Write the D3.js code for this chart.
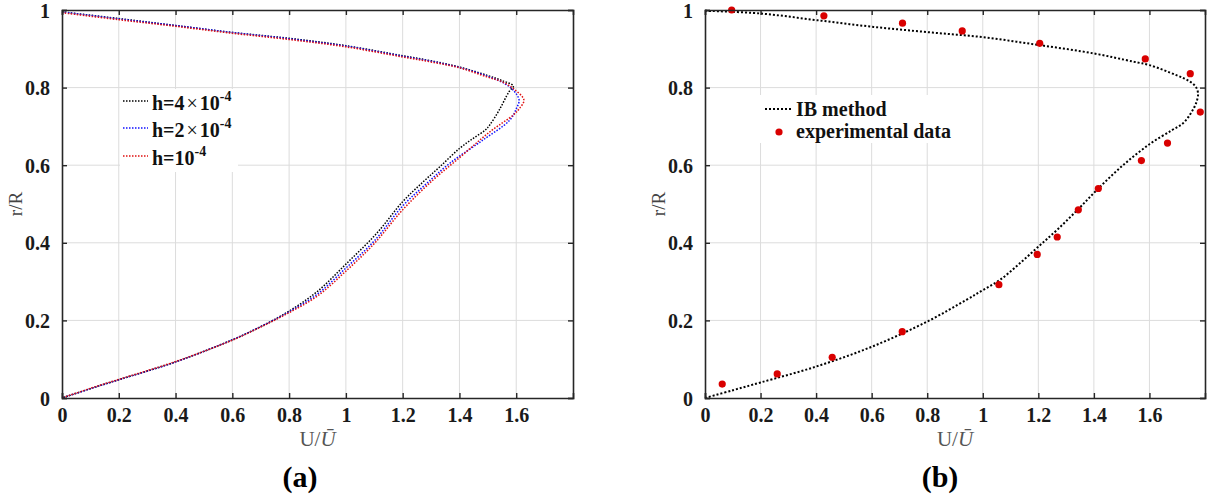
<!DOCTYPE html>
<html><head><meta charset="utf-8">
<script src="https://cdn.jsdelivr.net/npm/d3@7"></script>
<style>body{margin:0;background:#fff}svg{display:block}</style>
</head><body><svg id="c" width="1208" height="500"></svg>
<script>
// ---------- data ----------
const xTicks = [0, 0.2, 0.4, 0.6, 0.8, 1, 1.2, 1.4, 1.6];
const yTicks = [0, 0.2, 0.4, 0.6, 0.8, 1];
const xTickLabels = ["0", "0.2", "0.4", "0.6", "0.8", "1", "1.2", "1.4", "1.6"];
const yTickLabels = ["0", "0.2", "0.4", "0.6", "0.8", "1"];

// panel (a): h = 4e-4 (black)
const aBlackU = [0, 0.2, 0.4, 0.6, 0.8, 1.0, 1.2, 1.3, 1.4, 1.5, 1.55, 1.59, 1.575, 1.54, 1.507, 1.49, 1.45, 1.4, 1.331, 1.272, 1.2, 1.108, 1.0, 0.9, 0.8, 0.7, 0.6, 0.4, 0.2, 0.1, 0];
const aBlackR = [0.995, 0.978, 0.96, 0.942, 0.927, 0.908, 0.882, 0.869, 0.853, 0.831, 0.818, 0.804, 0.79, 0.742, 0.704, 0.69, 0.67, 0.643, 0.596, 0.557, 0.506, 0.424, 0.345, 0.275, 0.224, 0.184, 0.15, 0.093, 0.047, 0.024, 0];
// panel (a): h = 2e-4 (blue)
const aBlueU = [0, 0.2, 0.4, 0.6, 0.8, 1.0, 1.2, 1.3, 1.4, 1.5, 1.56, 1.59, 1.61, 1.6, 1.577, 1.483, 1.366, 1.28, 1.2, 1.1, 1.0, 0.9, 0.8, 0.7, 0.6, 0.4, 0.2, 0.1, 0];
const aBlueR = [0.995, 0.977, 0.96, 0.942, 0.926, 0.907, 0.881, 0.868, 0.852, 0.829, 0.81, 0.793, 0.768, 0.745, 0.716, 0.665, 0.605, 0.55, 0.495, 0.405, 0.335, 0.268, 0.222, 0.184, 0.15, 0.093, 0.047, 0.024, 0];
// panel (a): h = 1e-4 (red)
const aRedU = [0, 0.2, 0.4, 0.6, 0.8, 1.0, 1.2, 1.3, 1.4, 1.5, 1.55, 1.589, 1.627, 1.61, 1.589, 1.507, 1.39, 1.307, 1.2, 1.1, 1.0, 0.9, 0.8, 0.7, 0.6, 0.4, 0.2, 0.1, 0];
const aRedR = [0.993, 0.975, 0.958, 0.94, 0.924, 0.905, 0.879, 0.866, 0.851, 0.827, 0.815, 0.798, 0.768, 0.745, 0.729, 0.686, 0.613, 0.562, 0.485, 0.398, 0.327, 0.263, 0.22, 0.183, 0.149, 0.094, 0.048, 0.025, 0];

// panel (b): IB method curve
const bIBU = [0, 0.1, 0.2, 0.4, 0.6, 0.8, 0.941, 1.0, 1.061, 1.13, 1.2, 1.27, 1.344, 1.416, 1.505, 1.6, 1.68, 1.721, 1.75, 1.768, 1.775, 1.766, 1.74, 1.697, 1.6, 1.541, 1.4, 1.2, 1.0, 0.8, 0.6, 0.4, 0.2, 0];
const bIBR = [0, 0.02, 0.04, 0.081, 0.132, 0.197, 0.253, 0.278, 0.304, 0.345, 0.39, 0.435, 0.487, 0.54, 0.6, 0.654, 0.69, 0.708, 0.735, 0.76, 0.785, 0.803, 0.818, 0.832, 0.858, 0.867, 0.888, 0.91, 0.93, 0.943, 0.957, 0.974, 0.991, 0.998];
// panel (b): experimental data
const bExpU = [0.062, 0.26, 0.458, 0.71, 1.058, 1.196, 1.268, 1.344, 1.416, 1.571, 1.665, 1.783, 1.747, 1.585, 1.205, 0.926, 0.711, 0.428, 0.096];
const bExpR = [0.036, 0.062, 0.105, 0.171, 0.292, 0.37, 0.415, 0.485, 0.54, 0.612, 0.657, 0.737, 0.836, 0.874, 0.914, 0.946, 0.966, 0.985, 1.0];

// ---------- drawing ----------
const svg = d3.select("#c");
const SERIF = "'Liberation Serif','Times New Roman',serif";
const AX = "#262626";

function panel(x0, x1, yTop, yBot) {
  const x = d3.scaleLinear().domain([0, 1.8]).range([x0, x1]);
  const y = d3.scaleLinear().domain([0, 1]).range([yBot, yTop]);
  const g = svg.append("g");
  g.selectAll(".gx").data(xTicks.slice(1)).join("line")
    .attr("x1", d => x(d)).attr("x2", d => x(d)).attr("y1", yTop).attr("y2", yBot)
    .attr("stroke", "#dcdcdc").attr("stroke-width", 1);
  g.selectAll(".gy").data(yTicks.slice(1, -1)).join("line")
    .attr("x1", x0).attr("x2", x1).attr("y1", d => y(d)).attr("y2", d => y(d))
    .attr("stroke", "#dcdcdc").attr("stroke-width", 1);
  return {x, y, g};
}

function frame(p, x0, x1, yTop, yBot) {
  const {x, y, g} = p;
  const fmtX = d => xTickLabels[xTicks.indexOf(d)];
  const fmtY = d => yTickLabels[yTicks.indexOf(d)];
  const bottom = g.append("g").attr("transform", `translate(0,${yBot})`)
    .call(d3.axisBottom(x).tickValues(xTicks).tickFormat(fmtX).tickSize(-5).tickPadding(10));
  const top = g.append("g").attr("transform", `translate(0,${yTop})`)
    .call(d3.axisTop(x).tickValues(xTicks).tickFormat("").tickSize(-5));
  const left = g.append("g").attr("transform", `translate(${x0},0)`)
    .call(d3.axisLeft(y).tickValues(yTicks).tickFormat(fmtY).tickSize(-5).tickPadding(12));
  const right = g.append("g").attr("transform", `translate(${x1},0)`)
    .call(d3.axisRight(y).tickValues(yTicks).tickFormat("").tickSize(-5));
  [bottom, top, left, right].forEach(a => {
    a.select(".domain").attr("stroke", AX).attr("stroke-width", 1.6);
    a.selectAll(".tick line").attr("stroke", AX).attr("stroke-width", 1.4);
    a.selectAll("text").attr("font-family", SERIF).attr("font-weight", "bold")
      .attr("font-size", 20).attr("fill", "#1a1a1a");
  });
  left.selectAll("text").attr("dy", "0.35em");
}

function labels(x0, x1, yTop, yBot, ylx, caption, capX) {
  const cx = (x0 + x1) / 2;
  const t = svg.append("text").attr("x", cx).attr("y", 446).attr("text-anchor", "middle")
    .attr("font-family", SERIF).attr("font-size", 21).attr("fill", "#555");
  t.append("tspan").text("U/");
  t.append("tspan").attr("font-style", "italic").text("Ū");
  svg.append("text").attr("transform", `translate(${ylx},${(yTop + yBot) / 2}) rotate(-90)`)
    .attr("text-anchor", "middle").attr("font-family", SERIF).attr("font-size", 19)
    .attr("fill", "#444").text("r/R");
  svg.append("text").attr("x", capX).attr("y", 487).attr("text-anchor", "middle")
    .attr("font-family", SERIF).attr("font-weight", "bold").attr("font-size", 30)
    .attr("fill", "#000").text(caption);
}

function series(p, U, R, color, w, dash, curve) {
  const pts = U.map((u, i) => [u, R[i]]);
  p.g.append("path").datum(pts)
    .attr("d", d3.line().x(d => p.x(d[0])).y(d => p.y(d[1])).curve(curve || d3.curveLinear))
    .attr("fill", "none").attr("stroke", color).attr("stroke-width", w)
    .attr("stroke-dasharray", dash);
}

// ----- panel (a)
const A = {x0: 62, x1: 573, yTop: 10, yBot: 398};
const pa = panel(A.x0, A.x1, A.yTop, A.yBot);
pa.g.append("rect").attr("x", 120).attr("y", 89).attr("width", 118).attr("height", 83).attr("fill", "#fff");
series(pa, aBlackU, aBlackR, "#000", 1.5, "1.5,1.5", d3.curveCatmullRom);
series(pa, aBlueU, aBlueR, "#1010ff", 1.5, "1.5,1.5", d3.curveCatmullRom);
series(pa, aRedU, aRedR, "#e01010", 1.5, "1.5,1.5", d3.curveCatmullRom);
frame(pa, A.x0, A.x1, A.yTop, A.yBot);
labels(A.x0, A.x1, A.yTop, A.yBot, 22, "(a)", 300);

const legA = [
  {c: "#000", pre: "h=4", times: true, y: 101},
  {c: "#1010ff", pre: "h=2", times: true, y: 128},
  {c: "#e01010", pre: "h=", times: false, y: 156}
];
legA.forEach(d => {
  svg.append("line").attr("x1", 123).attr("x2", 148).attr("y1", d.y).attr("y2", d.y)
    .attr("stroke", d.c).attr("stroke-width", 1.5).attr("stroke-dasharray", "1.5,1.5");
  const t = svg.append("text").attr("x", 152).attr("y", d.y + 9)
    .attr("font-family", SERIF).attr("font-weight", "bold").attr("font-size", 20).attr("fill", "#111");
  t.append("tspan").text(d.pre);
  if (d.times) t.append("tspan").attr("dx", 2).attr("font-weight", "normal").text("×");
  t.append("tspan").attr("dx", d.times ? 2 : 0).text("10");
  t.append("tspan").attr("dy", -9).attr("font-size", 14).text("-4");
});

// ----- panel (b)
const B = {x0: 705, x1: 1205, yTop: 10, yBot: 398};
const pb = panel(B.x0, B.x1, B.yTop, B.yBot);
pb.g.append("rect").attr("x", 758).attr("y", 95).attr("width", 196).attr("height", 48).attr("fill", "#fff");
series(pb, bIBU, bIBR, "#000", 2, "2,2", d3.curveCatmullRom);
pb.g.selectAll(".pt").data(bExpU.map((u, i) => [u, bExpR[i]])).join("circle")
  .attr("cx", d => pb.x(d[0])).attr("cy", d => pb.y(d[1])).attr("r", 3.6).attr("fill", "#d90000");
frame(pb, B.x0, B.x1, B.yTop, B.yBot);
labels(B.x0, B.x1, B.yTop, B.yBot, 665, "(b)", 940);

svg.append("line").attr("x1", 765).attr("x2", 793).attr("y1", 109).attr("y2", 109)
  .attr("stroke", "#000").attr("stroke-width", 2).attr("stroke-dasharray", "2,2");
svg.append("text").attr("x", 796).attr("y", 116).attr("font-family", SERIF).attr("font-weight", "bold")
  .attr("font-size", 20).attr("fill", "#111").text("IB method");
svg.append("circle").attr("cx", 779).attr("cy", 132).attr("r", 3.6).attr("fill", "#d90000");
svg.append("text").attr("x", 796).attr("y", 138).attr("font-family", SERIF).attr("font-weight", "bold")
  .attr("font-size", 20).attr("fill", "#111").text("experimental data");
</script></body></html>
